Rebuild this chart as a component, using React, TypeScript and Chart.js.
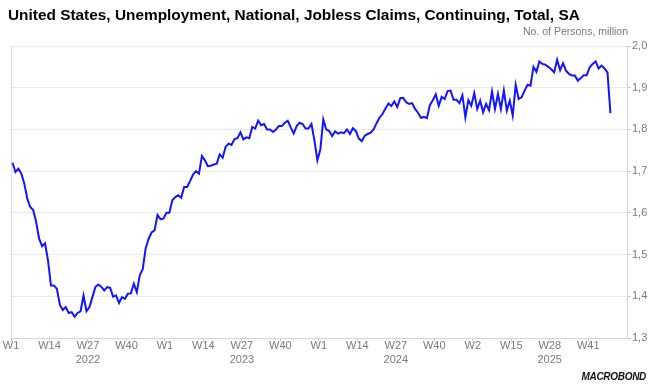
import React, { useEffect, useRef } from "react";
import { Chart, registerables } from "chart.js";

Chart.register(...registerables);

const weekTickLabels = ["W1", "W14", "W27", "W40", "W1", "W14", "W27", "W40", "W1", "W14", "W27", "W40", "W2", "W15", "W28", "W41"];
const yearLabels = ["", "", "2022", "", "", "", "2023", "", "", "", "2024", "", "", "", "2025", ""];
const yTickValues = [1.3, 1.4, 1.5, 1.6, 1.7, 1.8, 1.9, 2.0];

// Weekly continuing claims, millions, from 2022 W1
const claims2022 = [
  1.72, 1.698, 1.706, 1.694, 1.67, 1.634, 1.614, 1.607, 1.578, 1.538,
  1.52, 1.527, 1.486, 1.426, 1.426, 1.418, 1.38, 1.367, 1.374, 1.36,
  1.362, 1.351, 1.36, 1.364, 1.402, 1.364, 1.374, 1.398, 1.422, 1.428,
  1.423, 1.414, 1.422, 1.42, 1.399, 1.402, 1.384, 1.398, 1.394, 1.406,
  1.407, 1.43, 1.41, 1.45, 1.465, 1.515, 1.538, 1.553, 1.558, 1.595,
  1.585, 1.586,
];
const claims2023 = [
  1.6, 1.6, 1.63, 1.638, 1.642, 1.636, 1.662, 1.662, 1.676, 1.692,
  1.7, 1.694, 1.736, 1.726, 1.712, 1.713, 1.716, 1.718, 1.74, 1.732,
  1.758, 1.766, 1.763, 1.777, 1.779, 1.793, 1.776, 1.781, 1.779, 1.806,
  1.802, 1.821, 1.81, 1.813, 1.8, 1.8, 1.794, 1.8, 1.808, 1.808,
  1.816, 1.821, 1.805, 1.79, 1.808, 1.816, 1.813, 1.802, 1.802, 1.813,
  1.774, 1.726,
];
const claims2024 = [
  1.752, 1.824, 1.8, 1.796, 1.784, 1.795, 1.79, 1.793, 1.791, 1.8,
  1.789, 1.803, 1.796, 1.778, 1.772, 1.785, 1.789, 1.792, 1.8, 1.815,
  1.828, 1.837, 1.85, 1.862, 1.856, 1.867, 1.854, 1.875, 1.876, 1.865,
  1.861, 1.863, 1.849, 1.84, 1.828, 1.83, 1.827, 1.858, 1.87, 1.884,
  1.857, 1.878, 1.873, 1.892, 1.893, 1.871, 1.871, 1.863, 1.882, 1.829,
  1.87, 1.857,
];
const claims2025 = [
  1.887, 1.849, 1.869, 1.841, 1.861, 1.846, 1.891, 1.849, 1.885, 1.849,
  1.893, 1.845, 1.869, 1.833, 1.907, 1.873, 1.877, 1.893, 1.907, 1.905,
  1.95, 1.938, 1.963, 1.957, 1.955, 1.95, 1.944, 1.937, 1.967, 1.942,
  1.959, 1.941, 1.933, 1.929, 1.929, 1.917, 1.923, 1.93, 1.93, 1.949,
  1.957, 1.963, 1.946, 1.953, 1.946, 1.937, 1.839,
];
const claims = [...claims2022, ...claims2023, ...claims2024, ...claims2025];

const FONT = "'Liberation Sans', Arial, sans-serif";

export default function App() {
  const canvasRef = useRef<HTMLCanvasElement>(null);

  useEffect(() => {
    const canvas = canvasRef.current;
    if (!canvas) return;
    const leftBorder = {
      id: "leftBorder",
      beforeDatasetsDraw(chart: any) {
        const { ctx, chartArea } = chart;
        ctx.save();
        ctx.strokeStyle = "#dcdcdc";
        ctx.lineWidth = 1;
        ctx.beginPath();
        ctx.moveTo(Math.round(chartArea.left) + 0.5, chartArea.top);
        ctx.lineTo(Math.round(chartArea.left) + 0.5, chartArea.bottom);
        ctx.stroke();
        ctx.restore();
      },
    };
    const chart = new Chart(canvas, {
      type: "line",
      data: {
        datasets: [
          {
            data: claims.map((v, i) => ({ x: i, y: v })),
            borderColor: "#1414ff",
            borderWidth: 2,
            pointRadius: 0,
            tension: 0,
          },
        ],
      },
      options: {
        animation: false,
        responsive: false,
        maintainAspectRatio: false,
        layout: { padding: { left: 11, top: 46, right: 0, bottom: 0 } },
        plugins: { legend: { display: false }, tooltip: { enabled: false } },
        scales: {
          x: {
            type: "linear",
            min: -0.5,
            max: 207.6,
            afterBuildTicks: (s: any) => {
              s.ticks = weekTickLabels.map((_, k) => ({ value: 13 * k - 0.5 }));
            },
            afterFit: (s: any) => {
              s.height = 50;
            },
            grid: { display: true, drawOnChartArea: false, drawTicks: true, tickLength: 3, color: "#c8c8c8" },
            border: { color: "#d4d4d4" },
            ticks: {
              autoSkip: false,
              maxRotation: 0,
              color: "#7a7a7a",
              padding: -2,
              font: { family: FONT, size: 11, lineHeight: 1.25 },
              callback: (_v: any, idx: number) =>
                yearLabels[idx] ? [weekTickLabels[idx], yearLabels[idx]] : weekTickLabels[idx],
            },
          },
          y: {
            position: "right",
            min: 1.3,
            max: 2.0,
            afterBuildTicks: (s: any) => {
              s.ticks = yTickValues.map((v) => ({ value: v }));
            },
            afterFit: (s: any) => {
              s.width = 25;
            },
            grid: { color: "#ebebeb", tickLength: 4, tickColor: "#c8c8c8" },
            border: { color: "#d4d4d4" },
            ticks: {
              color: "#7a7a7a",
              padding: 1,
              font: { family: FONT, size: 11 },
              callback: (v: any) => Number(v).toFixed(1).replace(".", ","),
            },
          },
        },
      },
      plugins: [leftBorder],
    } as any);
    return () => chart.destroy();
  }, []);

  return (
    <div style={{ position: "absolute", left: 0, top: 0, width: 652, height: 388, background: "#fff", fontFamily: FONT, overflow: "hidden" }}>
      <canvas ref={canvasRef} width={652} height={388} style={{ position: "absolute", left: 0, top: 0, width: 652, height: 388 }} />
      <div style={{ position: "absolute", left: 8, top: 6, fontSize: 15.4, fontWeight: "bold", color: "#000", whiteSpace: "nowrap" }}>
        United States, Unemployment, National, Jobless Claims, Continuing, Total, SA
      </div>
      <div style={{ position: "absolute", right: 24, top: 25, fontSize: 10.5, color: "#7a7a7a", whiteSpace: "nowrap" }}>
        No. of Persons, million
      </div>
      <div style={{ position: "absolute", right: 6, top: 371, fontSize: 10, fontWeight: "bold", fontStyle: "italic", color: "#111", letterSpacing: -0.3, whiteSpace: "nowrap" }}>
        MACROBOND
      </div>
    </div>
  );
}
